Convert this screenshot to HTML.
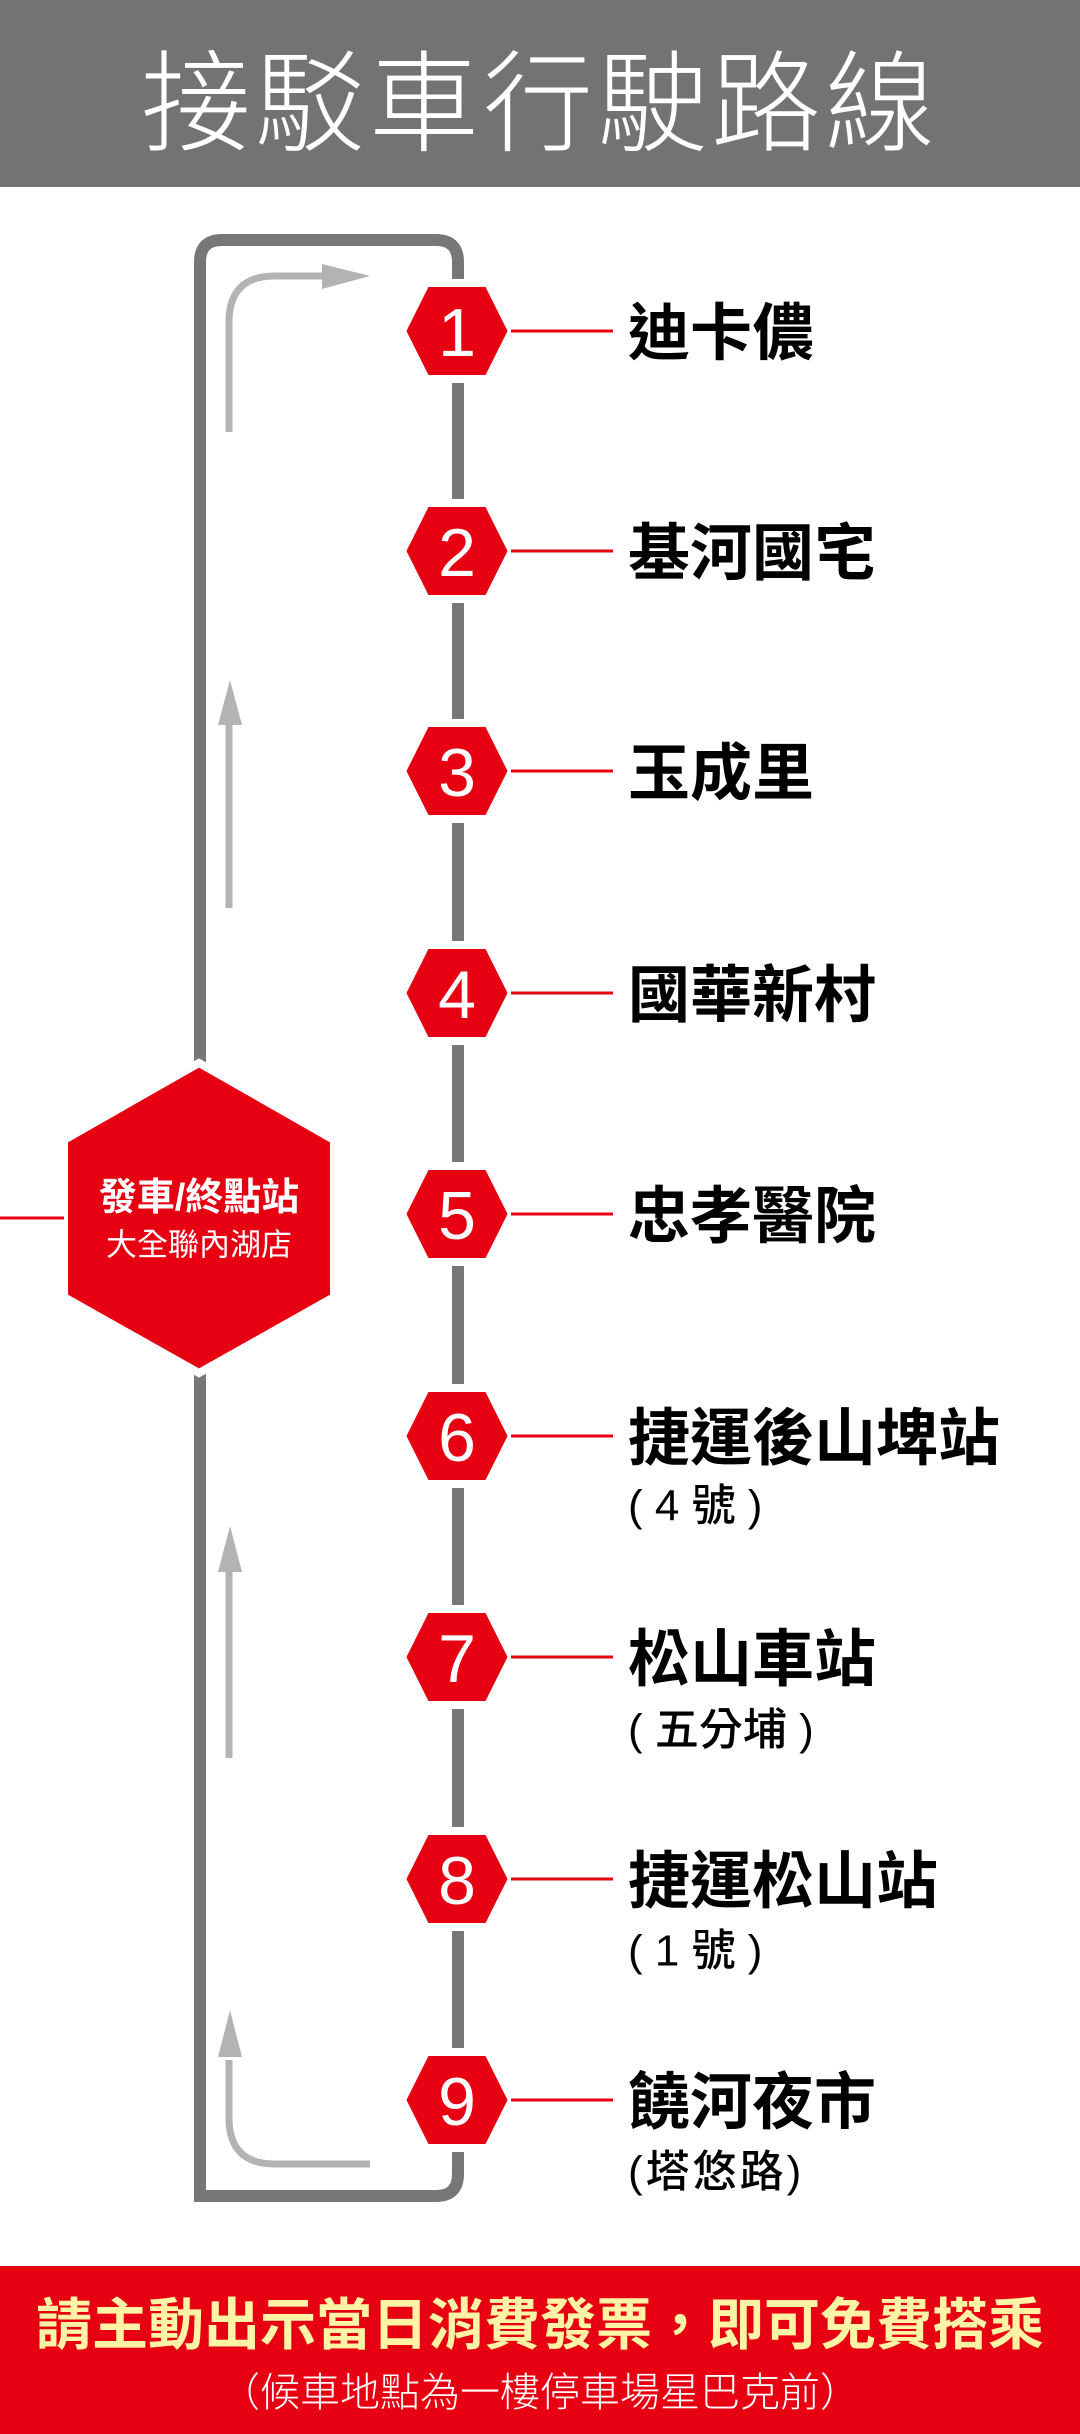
<!DOCTYPE html>
<html><head><meta charset="utf-8">
<style>
html,body{margin:0;padding:0;background:#fff;}
svg{display:block;}
.t{font-family:"Liberation Sans","Noto Sans CJK TC",sans-serif;}
</style></head>
<body>
<svg width="1080" height="2434" viewBox="0 0 1080 2434" xmlns="http://www.w3.org/2000/svg">
<rect x="0" y="0" width="1080" height="187" fill="#737373"/>
<text x="540" y="105" text-anchor="middle" dominant-baseline="central" fill="#fff" font-size="110" font-weight="300" class="t" letter-spacing="4">接駁車行駛路線</text>

<path d="M200 2196 L200 262 Q200 240 222 240 L436 240 Q458 240 458 262 L458 2174 Q458 2196 436 2196 Z" fill="none" stroke="#777" stroke-width="12"/>

<g stroke="#b3b3b3" stroke-width="7" fill="none">
<path d="M229 432 L229 322 Q229 276 275 276 L330 276"/>
<path d="M229 908 L229 712"/>
<path d="M229 1758 L229 1560"/>
<path d="M229 2060 L229 2118 Q229 2164 275 2164 L370 2164"/>
</g>
<g fill="#b3b3b3">
<polygon points="322,264 370,276 322,289"/>
<polygon points="218,725 230,680 242,725"/>
<polygon points="218,1572 230,1526 242,1572"/>
<polygon points="218,2057 230,2010 242,2057"/>
</g>

<polygon points="199,1063 334,1140 334,1297 199,1373 64,1297 64,1140" fill="#e60012" stroke="#fff" stroke-width="8" stroke-linejoin="miter"/>
<line x1="0" y1="1218" x2="64" y2="1218" stroke="#e60012" stroke-width="3"/>
<text x="199" y="1198" text-anchor="middle" dominant-baseline="central" fill="#fff" font-size="38" font-weight="bold" class="t">發車/終點站</text>
<text x="199" y="1245" text-anchor="middle" dominant-baseline="central" fill="#fff" font-size="31" class="t">大全聯內湖店</text>

<g fill="#e60012" stroke="#fff" stroke-width="8">
<polygon points="402,331 426,283 488,283 512,331 488,379 426,379"/>
<polygon points="402,551 426,503 488,503 512,551 488,599 426,599"/>
<polygon points="402,771 426,723 488,723 512,771 488,819 426,819"/>
<polygon points="402,993 426,945 488,945 512,993 488,1041 426,1041"/>
<polygon points="402,1214 426,1166 488,1166 512,1214 488,1262 426,1262"/>
<polygon points="402,1436 426,1388 488,1388 512,1436 488,1484 426,1484"/>
<polygon points="402,1657 426,1609 488,1609 512,1657 488,1705 426,1705"/>
<polygon points="402,1879 426,1831 488,1831 512,1879 488,1927 426,1927"/>
<polygon points="402,2100 426,2052 488,2052 512,2100 488,2148 426,2148"/>
</g>
<g stroke="#e60012" stroke-width="3">
<line x1="511" y1="331" x2="613" y2="331"/>
<line x1="511" y1="551" x2="613" y2="551"/>
<line x1="511" y1="771" x2="613" y2="771"/>
<line x1="511" y1="993" x2="613" y2="993"/>
<line x1="511" y1="1214" x2="613" y2="1214"/>
<line x1="511" y1="1436" x2="613" y2="1436"/>
<line x1="511" y1="1657" x2="613" y2="1657"/>
<line x1="511" y1="1879" x2="613" y2="1879"/>
<line x1="511" y1="2100" x2="613" y2="2100"/>
</g>
<g fill="#fff" font-size="68" text-anchor="middle" class="t">
<text x="457" y="356">1</text>
<text x="457" y="576">2</text>
<text x="457" y="796">3</text>
<text x="457" y="1018">4</text>
<text x="457" y="1239">5</text>
<text x="457" y="1461">6</text>
<text x="457" y="1682">7</text>
<text x="457" y="1904">8</text>
<text x="457" y="2125">9</text>
</g>
<g fill="#000" font-size="62" font-weight="bold" class="t" dominant-baseline="central">
<text x="628" y="334">迪卡儂</text>
<text x="628" y="554">基河國宅</text>
<text x="628" y="774">玉成里</text>
<text x="628" y="996">國華新村</text>
<text x="628" y="1217">忠孝醫院</text>
<text x="628" y="1439">捷運後山埤站</text>
<text x="628" y="1660">松山車站</text>
<text x="628" y="1882">捷運松山站</text>
<text x="628" y="2103">饒河夜市</text>
</g>
<g fill="#000" font-size="44" font-weight="500" class="t" dominant-baseline="central">
<text x="628" y="1506">( 4 號 )</text>
<text x="628" y="1730">( 五分埔 )</text>
<text x="628" y="1951">( 1 號 )</text>
<text x="628" y="2172" letter-spacing="3">(塔悠路)</text>
</g>

<rect x="0" y="2266" width="1080" height="168" fill="#e60012"/>
<text x="540" y="2325" text-anchor="middle" dominant-baseline="central" fill="#fff3a6" font-size="56" font-weight="bold" class="t">請主動出示當日消費發票，即可免費搭乘</text>
<text x="540" y="2393" text-anchor="middle" dominant-baseline="central" fill="#fff" font-size="40" font-weight="300" class="t">（候車地點為一樓停車場星巴克前）</text>
</svg>
</body></html>
